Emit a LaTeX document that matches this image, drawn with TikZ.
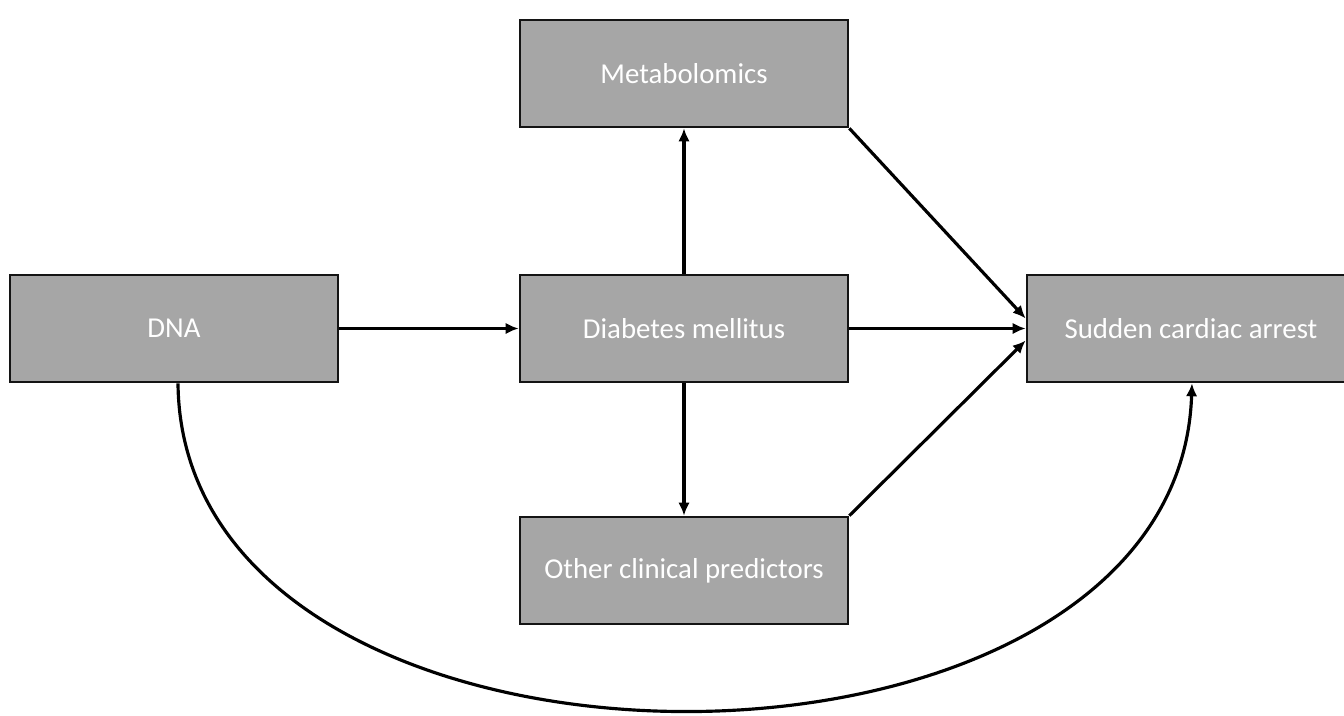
\documentclass[tikz,border=0pt]{standalone}
\usepackage{fontspec}
\setmainfont{Carlito}
\usepackage{xcolor}
\usepackage{tikz}
\usetikzlibrary{calc,arrows.meta,positioning}
\definecolor{boxfill}{RGB}{166,166,166}
\definecolor{boxline}{RGB}{20,20,20}

\begin{document}
\begin{tikzpicture}
    \tikzset{factor/.style={draw=boxline,fill=boxfill,line width=0.75pt,inner sep=1pt,minimum width=3.28cm,minimum height=1.07cm,text=white,font=\fontsize{8.2}{10}\selectfont,anchor=center},
      link/.style={line width=0.9pt,-{Latex[length=1.3mm,width=1.15mm]}}}
    \useasboundingbox (0,0) rectangle (13.44,7.15);
    \node[factor] (dna) at (1.74,3.865) {DNA};
    \node[factor] (dm) at (6.84,3.865) {Diabetes mellitus};
    \node[factor] (meta) at (6.84,6.415) {Metabolomics};
    \node[factor] (ocp) at (6.84,1.445) {Other clinical predictors};
    \node[factor] (sca) at (11.91,3.865) {Sudden cardiac arrest};
    \draw[link] (dna) -- (dm);
    \draw[link] (dm) -- (meta);
    \draw[link] (dm) -- (ocp);
    \draw[link] (dm) -- (sca);
    \draw[link] (meta.south east) -- ([yshift=0.1cm]sca.west);
    \draw[link] (ocp.north east) -- ([yshift=-0.12cm]sca.west);
    \draw[link] ([xshift=0.04cm]dna.south) .. controls (1.82,-1.04) and (11.78,-1.04) .. ([xshift=0.01cm]sca.south);
  \end{tikzpicture}
\end{document}
